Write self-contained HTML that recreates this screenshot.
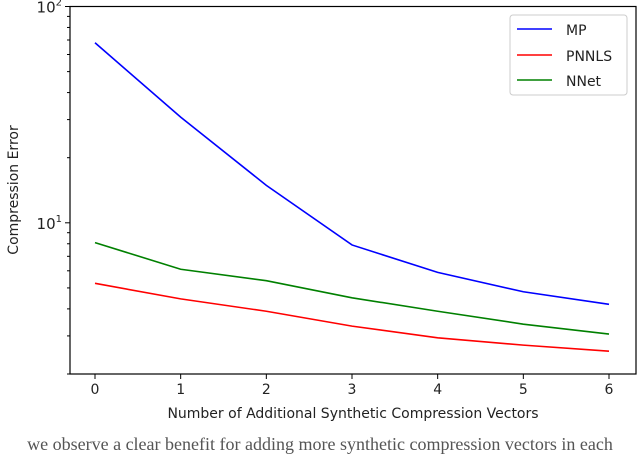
<!DOCTYPE html>
<html><head><meta charset="utf-8"><style>
body{margin:0;background:#fff;width:640px;height:454px;overflow:hidden}
svg{display:block}
text{font-family:"DejaVu Sans","Liberation Sans",sans-serif;fill:#222}
</style></head><body>
<svg id="chart" width="640" height="454">
<g id="grid"></g>
<rect x="70" y="6.5" width="566" height="367.5" fill="none" stroke="#000" stroke-width="1.2"/>
<g id="marks"></g>
<text x="18" y="190" font-size="14" text-anchor="middle" transform="rotate(-90 18 190)">Compression Error</text>
<text x="353" y="418" font-size="14" text-anchor="middle">Number of Additional Synthetic Compression Vectors</text>
<text x="320" y="450" font-size="18" text-anchor="middle" style="font-family:'Liberation Serif',serif;fill:#555">we observe a clear benefit for adding more synthetic compression vectors in each</text>
<g>
<rect x="510" y="15" width="117" height="80" rx="3" fill="#fff" stroke="#ccc"/>
<line x1="517" y1="29" x2="552" y2="29" stroke="#0000ff" stroke-width="1.6"/>
<text x="566" y="35" font-size="14">MP</text>
<line x1="517" y1="55" x2="552" y2="55" stroke="#ff0000" stroke-width="1.6"/>
<text x="566" y="61" font-size="14">PNNLS</text>
<line x1="517" y1="80" x2="552" y2="80" stroke="#008000" stroke-width="1.6"/>
<text x="566" y="86" font-size="14">NNet</text>
</g>
</svg>
<script>
const categories=[0,1,2,3,4,5,6];
const mpValues=[68,30.8,14.9,7.9,5.9,4.8,4.2];
const pnnlsValues=[5.25,4.45,3.9,3.33,2.94,2.72,2.55];
const nnetValues=[8.1,6.1,5.4,4.5,3.9,3.4,3.06];
const xTickLabels=["0","1","2","3","4","5","6"];
(function(){
const ns="http://www.w3.org/2000/svg";
const yMin=2,yMax=100,plotTop=6.5,plotBottom=374;
function xs(v){return 95+v*(609-95)/6;}
function ys(v){return plotBottom-(Math.log10(v)-Math.log10(yMin))/(Math.log10(yMax)-Math.log10(yMin))*(plotBottom-plotTop);}
const grid=document.getElementById('grid');
const marks=document.getElementById('marks');
function mk(tag,attrs,parent){const e=document.createElementNS(ns,tag);for(const k in attrs)e.setAttribute(k,attrs[k]);parent.appendChild(e);return e;}
categories.forEach((c,i)=>{
 const t=mk('line',{x1:xs(c),x2:xs(c),y1:plotBottom,y2:plotBottom+5,stroke:'#000'},grid);
 
 
 const l=mk('text',{x:xs(c),y:plotBottom+20,'font-size':14,'text-anchor':'middle'},grid);
 l.textContent=xTickLabels[i];
 
 
});
for(let d=1;d<=100;d*=10){for(let m=1;m<10;m++){const v=m*d;if(v<yMin||v>yMax)continue;
 const major=m===1;
 const t=mk('line',{x1:70-(major?5:3),x2:70,y1:ys(v),y2:ys(v),stroke:'#000'},grid);
 
 
 if(major){const l=mk('text',{x:62,y:ys(v)+6,'font-size':15,'text-anchor':'end'},grid);
  l.textContent='10';
  const sup=mk('tspan',{dy:-7,'font-size':10},l);
  sup.textContent=String(Math.round(Math.log10(v)));
  
  }
}}
[[mpValues,'#0000ff','line-mp'],[pnnlsValues,'#ff0000','line-pnnls'],[nnetValues,'#008000','line-nnet']].forEach(s=>{
 const p=mk('polyline',{points:s[0].map((v,i)=>xs(categories[i])+','+ys(v)).join(' '),fill:'none',stroke:s[1],'stroke-width':1.6},marks);
 
 
});
})();
</script>
</body></html>
